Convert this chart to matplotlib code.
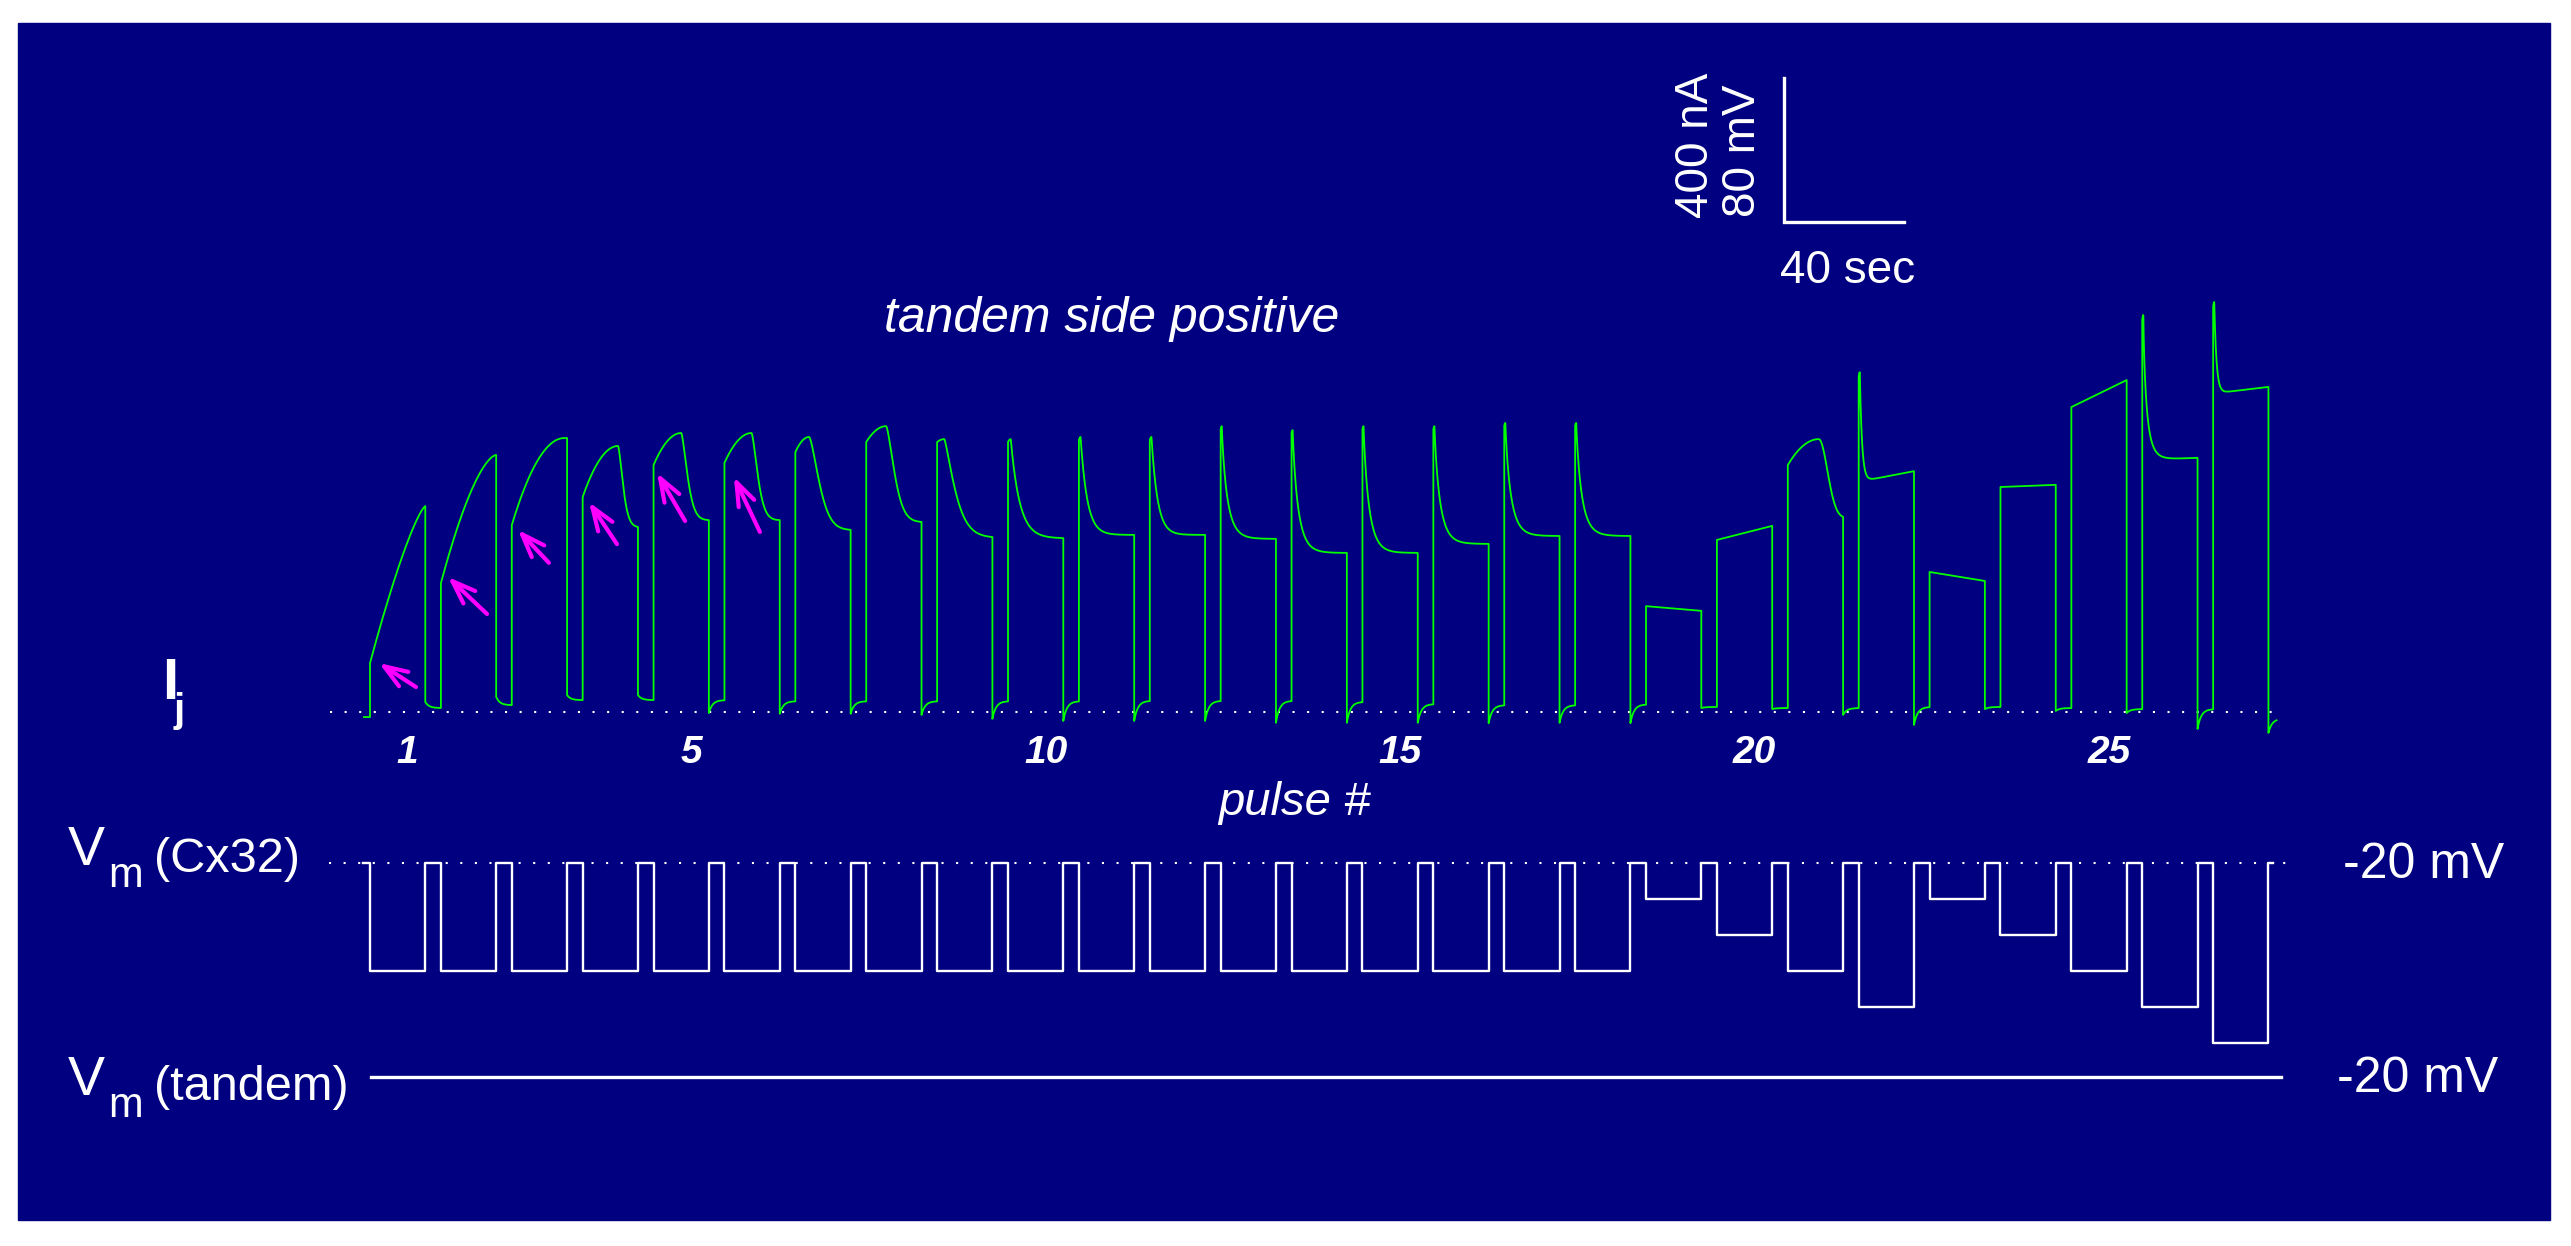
import numpy as np
import matplotlib
matplotlib.use("Agg")
import matplotlib.pyplot as plt
from matplotlib.patches import Rectangle
from matplotlib import transforms

plt.rcParams['font.family'] = ['Liberation Sans', 'DejaVu Sans']

# ---- data ----
n_pulses = 27
pulse_period = 23.63      # s, onset to onset
pulse_dur = 18.43         # s
holding_mv = -20          # both cells held at -20 mV

# Cx32 cell voltage during each pulse (mV)
vm_cx32 = [-80, -80, -80, -80, -80, -80, -80, -80, -80, -80, -80, -80, -80, -80,
           -80, -80, -80, -80, -40, -60, -80, -100, -40, -60, -80, -100, -120]

# junctional current (nA): value at onset, peak, peak time (fraction of pulse),
# level the decay settles to, value at pulse end
ij_on = [136, 358, 519, 597, 686, 692, 722, 750, 750, 750, 755, 755, 785, 775,
         785, 785, 795, 795, 294, 478, 686, 930, 389, 625, 847, 1090, 1125]
ij_peak = [572, 714, 761, 739, 775, 775, 764, 794, 758, 758, 764, 764, 794, 783,
           794, 794, 803, 803, 294, 517, 758, 944, 389, 625, 922, 1103, 1139]
f_peak = [1.0, 1.0, 0.95, 0.64, 0.5, 0.49, 0.25, 0.36, 0.13, 0.05, 0.03, 0.03, 0.02,
          0.02, 0.02, 0.02, 0.02, 0.02, 0.0, 1.0, 0.56, 0.02, 0.0, 0.0, 1.0, 0.02, 0.02]
rise_k = [1.3, 1.6, 2, 2, 2, 2, 2, 2, 2, 2, 2, 2, 2, 2, 2, 2, 2, 2,
          1, 1, 2, 2, 1, 1, 1, 2, 2]
ij_ss = [572, 714, 761, 514, 533, 533, 506, 528, 486, 483, 492, 492, 481, 442,
         442, 467, 489, 489, 294, 517, 535, 640, 389, 625, 922, 700, 885]
ij_end = [572, 714, 761, 514, 533, 533, 506, 528, 486, 483, 492, 492, 481, 442,
          442, 467, 489, 489, 281, 517, 542, 669, 364, 631, 922, 706, 903]
decay_tau = [0.1, 0.1, 0.1, 0.12, 0.15, 0.15, 0.24, 0.2, 0.25, 0.16, 0.12, 0.11, 0.1,
             0.1, 0.1, 0.1, 0.1, 0.1, 1, 1, 0.22, 0.04, 1, 1, 1, 0.06, 0.04]
decay_p = [1, 1, 1, 1.5, 1.5, 1.5, 1.5, 1.5, 1.3, 1, 1, 1, 0.9, 0.9, 0.9, 0.9, 0.9, 0.9,
           1, 1, 2, 1, 1, 1, 1, 0.8, 1]
# current in the interval after each pulse: first value, value it relaxes to
gap_under = [28, 42, 47, 47, -3, -5, -5, -8, -19, -25, -25, -25, -30, -30, -30, -31,
             -30, -31, 11, 8, -8, -36, 8, 3, -3, -47, -58]
gap_rec = [11, 19, 33, 33, 33, 30, 30, 30, 30, 30, 31, 31, 31, 28, 22, 19, 19, 21,
           14, 11, 11, 14, 14, 11, 8, 8, -19]
ij_before = -14

labeled_pulses = [1, 5, 10, 15, 20, 25]

# arrows: time (s) and current (nA) the arrow head points at
arrow_t = [3.0, 26.0, 49.3, 73.0, 95.7, 121.3]
arrow_ij = [136, 375, 506, 583, 664, 653]
arrow_tail_px = [(37, 24), (39, 37), (31, 33), (28, 42), (28, 48), (26, 55)]

# scale bars
bar_sec, bar_na, bar_mv = 40, 400, 80

# ---- layout (pixels) ----
W, H = 2571, 1246
X0, PX_PER_S = 370, 3.0
NAVY = '#000080'
GREEN = '#00ff00'
MAGENTA = '#ff00ff'

fig = plt.figure(figsize=(W / 100, H / 100), dpi=100, facecolor='white')
fig.add_artist(Rectangle((18 / W, 1 - 1220 / H), (2550 - 18) / W, (1220 - 23) / H,
                         transform=fig.transFigure, color=NAVY, zorder=-10))


def overlay_axes(y_ref_px, ref_value, px_per_unit):
    ax = fig.add_axes([0, 0, 1, 1])
    ax.set_xlim(-X0 / PX_PER_S, (W - X0) / PX_PER_S)
    ax.set_ylim(ref_value - (H - y_ref_px) / px_per_unit, ref_value + y_ref_px / px_per_unit)
    ax.axis('off')
    ax.patch.set_alpha(0)
    return ax


def fxy(x, y):
    return x / W, 1 - y / H


ax_ij = overlay_axes(712, 0, 144 / bar_na)
ax_vm = overlay_axes(863, holding_mv, 144 / bar_mv)
ax_tan = overlay_axes(1077, holding_mv, 144 / bar_mv)

onsets = np.arange(n_pulses) * pulse_period
offsets = onsets + pulse_dur


def pulse_current(i, f):
    on, pk, fp, k = ij_on[i], ij_peak[i], f_peak[i], rise_k[i]
    ss, end, tau, p = ij_ss[i], ij_end[i], decay_tau[i], decay_p[i]
    out = np.empty_like(f)
    rise = f < fp
    if fp > 0:
        out[rise] = on + (pk - on) * (1 - (1 - f[rise] / fp) ** k)
    d = f[~rise] - fp
    decay = ss + (pk - ss) * np.exp(-(d / tau) ** p)
    if fp < 1:
        d_end = ss + (pk - ss) * np.exp(-((1 - fp) / tau) ** p)
        decay = decay + (end - d_end) * d / (1 - fp)
    out[~rise] = decay
    return out


# build the junctional current trace
t_ij = [-2.0, onsets[0]]
y_ij = [ij_before, ij_before]
f = np.linspace(0, 1, 300)
for i in range(n_pulses):
    t_ij += list(onsets[i] + f * pulse_dur)
    y_ij += list(pulse_current(i, f))
    g_end = onsets[i + 1] if i + 1 < n_pulses else offsets[i] + 2.7
    g = np.linspace(0, g_end - offsets[i], 40)
    t_ij += list(offsets[i] + g)
    y_ij += list(gap_rec[i] + (gap_under[i] - gap_rec[i]) * np.exp(-g / 1.2))

# Cx32 voltage trace
t_vm = [-2.3]
y_vm = [holding_mv]
for i in range(n_pulses):
    t_vm += [onsets[i], onsets[i], offsets[i], offsets[i]]
    y_vm += [holding_mv, vm_cx32[i], vm_cx32[i], holding_mv]
t_vm.append(offsets[-1] + 1.5)
y_vm.append(holding_mv)

dots = dict(color='white', lw=1.5, linestyle=(0, (1, 6)))
ax_ij.plot([-13.3, 636.7], [0, 0], **dots)
ax_vm.plot([-13.7, 639], [holding_mv, holding_mv], **dots)

ax_ij.plot(t_ij, y_ij, color=GREEN, lw=1.3, zorder=3)
ax_vm.plot(t_vm, y_vm, color='white', lw=1.7, zorder=3)
ax_tan.plot([0.3, 637], [holding_mv, holding_mv], color='white', lw=2.4)

for t, v, (dx, dy) in zip(arrow_t, arrow_ij, arrow_tail_px):
    ax_ij.annotate('', xy=(t, v), xytext=(dx, -dy), textcoords='offset pixels',
                   arrowprops=dict(arrowstyle='->, head_length=0.6, head_width=0.22',
                                   color=MAGENTA, lw=3, mutation_scale=28,
                                   shrinkA=0, shrinkB=0), zorder=4)

# scale bar
bar_t, bar_i = (1784 - X0) / PX_PER_S, (712 - 222) / (144 / bar_na)
ax_ij.plot([bar_t, bar_t, bar_t + bar_sec], [bar_i + bar_na, bar_i, bar_i],
           color='white', lw=2.4, solid_joinstyle='miter')
fig.text(*fxy(1708, 218), f'{bar_na} nA', rotation=90, rotation_mode='anchor',
         ha='left', va='baseline', color='white', fontsize=33)
fig.text(*fxy(1755, 217), f'{bar_mv} mV', rotation=90, rotation_mode='anchor',
         ha='left', va='baseline', color='white', fontsize=33)
fig.text(*fxy(1780, 283), f'{bar_sec} sec', ha='left', va='baseline', color='white', fontsize=33)

# pulse numbers
lab_tr = transforms.blended_transform_factory(ax_ij.transData, fig.transFigure)
lab_tr = transforms.offset_copy(lab_tr, fig=fig, x=10, y=0, units='dots')
for n in labeled_pulses:
    ax_ij.text(onsets[n - 1] + pulse_dur / 2, 1 - 763 / H, str(n), transform=lab_tr,
               ha='center', va='baseline', color='white', fontsize=28,
               fontweight='bold', fontstyle='italic')

fig.text(*fxy(884, 332), 'tandem side positive', ha='left', va='baseline',
         color='white', fontsize=36, fontstyle='italic')
fig.text(*fxy(1218, 815), 'pulse #', ha='left', va='baseline',
         color='white', fontsize=34, fontstyle='italic')

fig.text(*fxy(162, 699), 'I', ha='left', va='baseline', color='white', fontsize=42, fontweight='bold')
fig.text(*fxy(174, 722), 'j', ha='left', va='baseline', color='white', fontsize=29, fontweight='bold')

for y_v, y_m, y_txt, label in [(865, 887, 872, '(Cx32)'), (1095, 1117, 1100, '(tandem)')]:
    fig.text(*fxy(68, y_v), 'V', ha='left', va='baseline', color='white', fontsize=40)
    fig.text(*fxy(108, y_m), 'm', ha='left', va='baseline', color='white', fontsize=30)
    fig.text(*fxy(154, y_txt), label, ha='left', va='baseline', color='white', fontsize=35)

fig.text(*fxy(2343, 878), f'{holding_mv} mV', ha='left', va='baseline', color='white', fontsize=36)
fig.text(*fxy(2337, 1092), f'{holding_mv} mV', ha='left', va='baseline', color='white', fontsize=36)

fig.savefig('out.png', dpi=100, facecolor='white')
